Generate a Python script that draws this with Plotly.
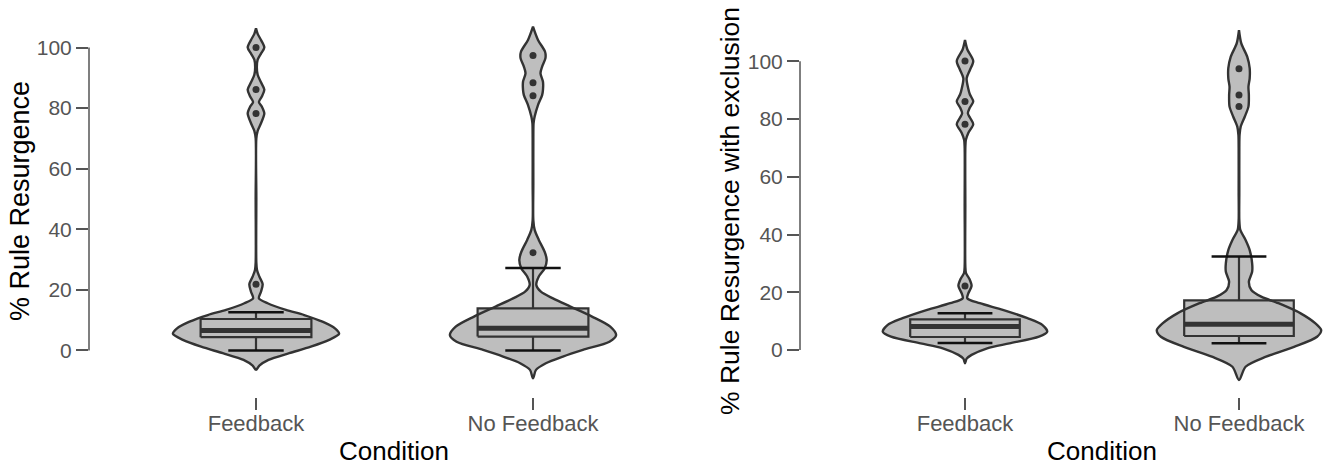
import plotly.graph_objects as go

# ---------------- data ----------------
conditions = ["Feedback", "No Feedback"]
y_ticks = [0, 20, 40, 60, 80, 100]

# Panel 1: % Rule Resurgence  -- violin density profiles (value grid, relative density)
p1_fb_grid = [-6.4, -5.0, -3.1, -0.9, 1.25, 3.5, 5.5, 7.3, 9.5, 11.7, 13.4, 15.6, 17.2, 19.4, 21.9, 24.4, 26.6,
              29, 50, 70, 72.5, 75, 78.2, 80.5, 82, 83.8, 86.1, 88.5, 91, 93.5, 96, 98, 100, 102.5, 104.5, 106.3]
p1_fb_dens = [0, 0.04, 0.15, 0.4, 0.66, 0.88, 1.0, 0.95, 0.8, 0.58, 0.36, 0.14, 0.035, 0.06, 0.08, 0.04, 0.012,
              0.004, 0.004, 0.004, 0.02, 0.06, 0.1, 0.07, 0.035, 0.07, 0.1, 0.06, 0.02, 0.01, 0.02, 0.06, 0.1, 0.06, 0.02, 0]
p1_nf_grid = [-9.2, -6.4, -4.2, -2.0, 0.2, 2.9, 5.1, 7.9, 11.2, 14.5, 17.2, 19.4, 21.6, 24.4, 27.1, 29.9, 32.6,
              36.5, 39.8, 43, 55, 70, 75, 77.2, 81, 84.3, 86, 88.7, 91.5, 93.7, 96.5, 98.6, 102.5, 106.9]
p1_nf_dens = [0, 0.036, 0.155, 0.36, 0.6, 0.92, 1.0, 0.93, 0.71, 0.45, 0.24, 0.095, 0.04, 0.07, 0.14, 0.165, 0.14,
              0.07, 0.02, 0.004, 0.004, 0.004, 0.007, 0.02, 0.06, 0.11, 0.12, 0.12, 0.09, 0.11, 0.15, 0.145, 0.06, 0]
# box stats: [lower whisker, q1, median, q3, upper whisker]
p1_box_fb = [0.0, 4.4, 6.6, 10.4, 12.6]
p1_box_nf = [0.0, 4.6, 7.3, 13.9, 27.2]
p1_out_fb = [21.9, 78.2, 86.1, 100.0]
p1_out_nf = [32.3, 84.1, 88.4, 97.4]

# Panel 2: % Rule Resurgence with exclusion
p2_fb_grid = [-4.6, -3.0, -1.7, 0.6, 2.3, 4.6, 6.3, 8.7, 11.0, 13.9, 16.2, 17.9, 19.6, 22.2, 24.8, 26.6,
              29, 50, 70, 72.7, 75.2, 78.2, 80.5, 82, 84, 86.1, 88.5, 90.5, 94.1, 97, 100.1, 104, 107.4]
p2_fb_dens = [0, 0.02, 0.08, 0.27, 0.54, 0.9, 1.0, 0.94, 0.76, 0.46, 0.18, 0.028, 0.04, 0.08, 0.05, 0.012,
              0.004, 0.004, 0.004, 0.01, 0.04, 0.1, 0.06, 0.035, 0.06, 0.1, 0.06, 0.04, 0.02, 0.06, 0.1, 0.03, 0]
p2_nf_grid = [-10.4, -5.8, -2.3, 1.1, 4.6, 6.9, 9.2, 12.7, 16.2, 18.5, 20.8, 23.6, 27.1, 30.0, 34.6, 38.1, 41.6,
              45, 55, 70, 74.5, 77.3, 80.8, 84.3, 88.3, 91.2, 94.1, 97.6, 101.6, 106.2, 110.8]
p2_nf_dens = [0, 0.08, 0.33, 0.67, 0.95, 1.0, 0.93, 0.75, 0.48, 0.27, 0.15, 0.12, 0.16, 0.16, 0.13, 0.08, 0.016,
              0.004, 0.004, 0.004, 0.007, 0.02, 0.07, 0.115, 0.12, 0.115, 0.13, 0.13, 0.1, 0.028, 0]
p2_box_fb = [2.4, 4.5, 8.1, 10.6, 12.7]
p2_box_nf = [2.3, 4.85, 8.9, 17.2, 32.4]
p2_out_fb = [22.2, 78.2, 86.1, 100.1]
p2_out_nf = [84.3, 88.3, 97.4]

# ---------------- style ----------------
FILL = "#bebebe"
DARK = "#333333"
AXC = "#555555"
FONT = "Liberation Sans, Arial, sans-serif"
VW = 0.30      # max half-width of violins (x units)
BW = 0.20      # box half-width
CW = 0.10      # whisker cap half-width

fig = go.Figure()


def violin_path(c, grid, dens):
    xs = [c + VW * d for d in dens] + [c - VW * d for d in reversed(dens)]
    ys = list(grid) + list(reversed(grid))
    return xs, ys


def add_group(c, grid, dens, box, outliers, xa, ya):
    xs, ys = violin_path(c, grid, dens)
    # violin fill
    fig.add_trace(go.Scatter(x=xs, y=ys, mode="lines", fill="toself", fillcolor=FILL,
                             line=dict(width=0, shape="spline", smoothing=0.8, color=FILL),
                             xaxis=xa, yaxis=ya, hoverinfo="skip"))
    lo, q1, med, q3, hi = box
    # box
    fig.add_trace(go.Scatter(x=[c - BW, c + BW, c + BW, c - BW, c - BW], y=[q1, q1, q3, q3, q1],
                             mode="lines", fill="toself", fillcolor=FILL,
                             line=dict(color=DARK, width=2.2), xaxis=xa, yaxis=ya, hoverinfo="skip"))
    # median
    fig.add_trace(go.Scatter(x=[c - BW, c + BW], y=[med, med], mode="lines",
                             line=dict(color=DARK, width=5), xaxis=xa, yaxis=ya, hoverinfo="skip"))
    # whiskers
    fig.add_trace(go.Scatter(x=[c, c, None, c, c], y=[q3, hi, None, q1, lo], mode="lines",
                             line=dict(color=DARK, width=2.2), xaxis=xa, yaxis=ya, hoverinfo="skip"))
    # violin outline on top
    fig.add_trace(go.Scatter(x=xs, y=ys, mode="lines",
                             line=dict(width=2.4, shape="spline", smoothing=0.8, color=DARK),
                             xaxis=xa, yaxis=ya, hoverinfo="skip"))
    # caps
    fig.add_trace(go.Scatter(x=[c - CW, c + CW, None, c - CW, c + CW], y=[hi, hi, None, lo, lo], mode="lines",
                             line=dict(color="#111111", width=2.5), xaxis=xa, yaxis=ya, hoverinfo="skip"))
    # outliers
    fig.add_trace(go.Scatter(x=[c] * len(outliers), y=outliers, mode="markers",
                             marker=dict(color=DARK, size=7), xaxis=xa, yaxis=ya, hoverinfo="skip"))


add_group(0, p1_fb_grid, p1_fb_dens, p1_box_fb, p1_out_fb, "x", "y")
add_group(1, p1_nf_grid, p1_nf_dens, p1_box_nf, p1_out_nf, "x", "y")
add_group(0, p2_fb_grid, p2_fb_dens, p2_box_fb, p2_out_fb, "x2", "y2")
add_group(1, p2_nf_grid, p2_nf_dens, p2_box_nf, p2_out_nf, "x2", "y2")

W, H = 1325, 466
ydom = [1 - 397 / H, 1]

xcommon = dict(tickvals=[0, 1], ticktext=conditions, ticks="outside", ticklen=12, tickwidth=1.5,
               tickcolor=AXC, showline=False, showgrid=False, zeroline=False, ticklabelstandoff=-5,
               tickfont=dict(family=FONT, size=22, color=AXC), fixedrange=True)
ycommon = dict(tickvals=y_ticks, ticks="outside", ticklen=12, tickwidth=1.5, tickcolor=AXC,
               showline=False, showgrid=False, zeroline=False,
               tickfont=dict(family=FONT, size=21, color=AXC), domain=ydom, fixedrange=True)

fig.update_layout(
    width=W, height=H, margin=dict(l=0, r=0, t=0, b=0),
    paper_bgcolor="white", plot_bgcolor="white", showlegend=False,
    xaxis=dict(domain=[89 / W, 699 / W], range=[-0.6029, 1.5993], anchor="y", **xcommon),
    yaxis=dict(range=[-15.35, 115.68], anchor="x", **ycommon),
    xaxis2=dict(domain=[800 / W, 1.0], range=[-0.6022, 1.3139], anchor="y2", **xcommon),
    yaxis2=dict(range=[-16.28, 121.23], anchor="x2", **ycommon),
    shapes=[
        dict(type="line", xref="x domain", yref="y", x0=0, x1=0, y0=0, y1=100,
             line=dict(color=AXC, width=1.5)),
        dict(type="line", xref="x2 domain", yref="y2", x0=0, x1=0, y0=0, y1=100,
             line=dict(color=AXC, width=1.5)),
    ],
    annotations=[
        dict(text="% Rule Resurgence", xref="paper", yref="paper", x=20 / W, y=1 - 201 / H,
             textangle=-90, showarrow=False, xanchor="center", yanchor="middle",
             font=dict(family=FONT, size=27, color="black")),
        dict(text="% Rule Resurgence with exclusion", xref="paper", yref="paper", x=730 / W, y=1 - 211 / H,
             textangle=-90, showarrow=False, xanchor="center", yanchor="middle",
             font=dict(family=FONT, size=26.5, color="black")),
        dict(text="Condition", xref="paper", yref="paper", x=394 / W, y=1 - 451 / H,
             showarrow=False, xanchor="center", yanchor="middle",
             font=dict(family=FONT, size=26, color="black")),
        dict(text="Condition", xref="paper", yref="paper", x=1102 / W, y=1 - 451 / H,
             showarrow=False, xanchor="center", yanchor="middle",
             font=dict(family=FONT, size=26, color="black")),
    ],
)

fig.write_html("out.html", config={"displayModeBar": False},
               post_script="document.body.style.margin='0';document.body.style.overflow='hidden';")
